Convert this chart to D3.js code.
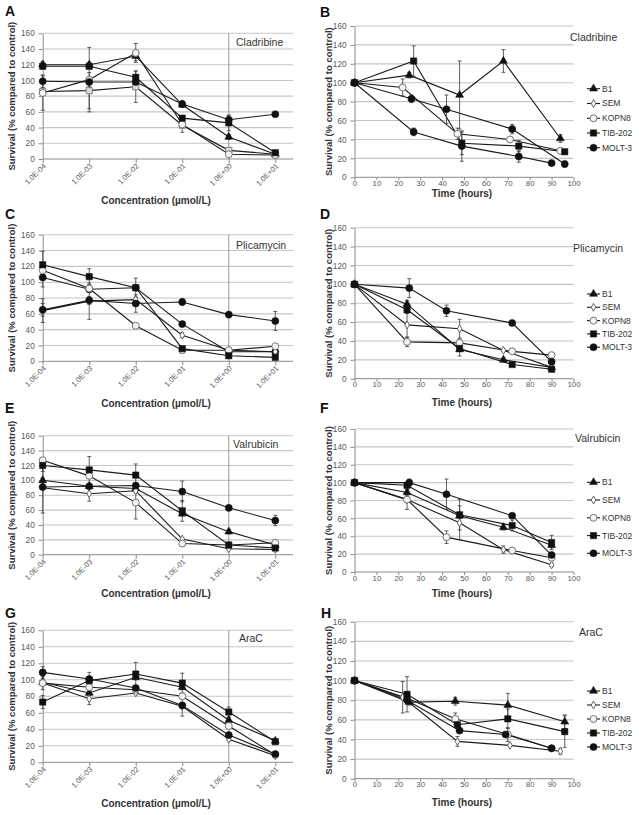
<!DOCTYPE html>
<html><head><meta charset="utf-8">
<script src="https://cdn.jsdelivr.net/npm/d3@7"></script>
<style>
body{margin:0;background:#fff;}
svg{display:block;font-family:"Liberation Sans",Arial,Helvetica,sans-serif;}
</style>
</head><body>
<svg id="chart" width="639" height="815"></svg>
<script>
// ---------------- DATA ----------------
const seriesNames = ["B1", "SEM", "KOPN8", "TIB-202", "MOLT-3"];
const concCategories = ["1.0E-04", "1.0E-03", "1.0E-02", "1.0E-01", "1.0E+00", "1.0E+01"];
const timeTicks = [0, 10, 20, 30, 40, 50, 60, 70, 80, 90, 100];
const survivalTicks = [0, 20, 40, 60, 80, 100, 120, 140, 160];
const drugs = ["Cladribine", "Plicamycin", "Valrubicin", "AraC"];

// A: Cladribine, concentration (rows follow seriesNames)
const cladribineConcValues = [
  [120, 120, 131, 69, 28, 6],
  [86, 87, 92, 43, 11, 6],
  [84, 101, 135, 44, 6, 5],
  [118, 118, 104, 52, 46, 8],
  [99, 98, 98, 70, 50, 57]
];
const cladribineConcErrors = [
  [4, 3, 6, 3, 3, 1],
  [0, 23, 20, 9, 3, 1],
  [22, 41, 12, 3, 1, 1],
  [3, 0, 8, 2, 10, 1],
  [8, 6, 5, 4, 5, 1]
];
// B: Cladribine, time
const cladribineTimeHours = [
  [0, 25, 48, 68, 94],
  [0, 26, 42, 72, 96],
  [0, 22, 47, 71, 94],
  [0, 27, 49, 75, 96],
  [0, 27, 49, 75, 90]
];
const cladribineTimeValues = [
  [100, 108, 87, 123, 41],
  [100, 83, 72, 51, 14],
  [100, 95, 46, 40, 28],
  [100, 123, 36, 33, 27],
  [100, 48, 33, 22, 15]
];
const cladribineTimeErrors = [
  [0, 3, 36, 12, 4],
  [0, 4, 15, 5, 3],
  [0, 9, 6, 2, 2],
  [0, 16, 12, 6, 2],
  [0, 4, 16, 6, 2]
];
// C: Plicamycin, concentration
const plicamycinConcValues = [
  [106, 91, 93, 47, 12, 12],
  [64, 76, 78, 33, 14, 12],
  [115, 92, 45, 14, 14, 19],
  [122, 107, 93, 16, 7, 5],
  [65, 77, 73, 75, 59, 51]
];
const plicamycinConcErrors = [
  [12, 4, 3, 2, 1, 1],
  [15, 23, 3, 3, 1, 2],
  [3, 3, 1, 2, 1, 2],
  [17, 10, 12, 2, 1, 1],
  [8, 5, 11, 4, 2, 12]
];
// D: Plicamycin, time
const plicamycinTimeHours = [
  [0, 24, 48, 68, 90],
  [0, 24, 48, 68, 90],
  [0, 24, 48, 72, 90],
  [0, 24, 48, 72, 90],
  [0, 25, 42, 72, 90]
];
const plicamycinTimeValues = [
  [100, 79, 31, 20, 12],
  [100, 57, 53, 30, 12],
  [100, 39, 38, 29, 25],
  [100, 73, 32, 15, 10],
  [100, 96, 72, 59, 18]
];
const plicamycinTimeErrors = [
  [0, 4, 2, 2, 1],
  [0, 13, 10, 1, 1],
  [0, 5, 4, 1, 1],
  [0, 4, 8, 1, 1],
  [0, 10, 6, 1, 3]
];
// E: Valrubicin, concentration
const valrubicinConcValues = [
  [100, 92, 89, 55, 31, 13],
  [90, 82, 86, 21, 8, 7],
  [127, 106, 70, 15, 13, 16],
  [120, 114, 107, 59, 13, 9],
  [91, 92, 93, 85, 63, 46]
];
const valrubicinConcErrors = [
  [3, 2, 2, 3, 3, 1],
  [0, 10, 3, 2, 1, 1],
  [2, 3, 22, 3, 1, 4],
  [8, 18, 15, 14, 1, 1],
  [35, 3, 3, 14, 2, 7]
];
// F: Valrubicin, time
const valrubicinTimeHours = [
  [0, 24, 48, 68, 90],
  [0, 24, 48, 68, 90],
  [0, 24, 42, 72, 90],
  [0, 24, 48, 72, 90],
  [0, 25, 42, 72, 90]
];
const valrubicinTimeValues = [
  [100, 89, 63, 50, 30],
  [100, 81, 55, 25, 8],
  [100, 81, 39, 24, 16],
  [100, 97, 64, 52, 33],
  [100, 100, 87, 63, 19]
];
const valrubicinTimeErrors = [
  [0, 3, 3, 3, 3],
  [0, 11, 19, 4, 2],
  [0, 3, 7, 2, 2],
  [0, 3, 17, 6, 8],
  [0, 4, 17, 2, 2]
];
// G: AraC, concentration
const aracConcValues = [
  [97, 84, 103, 91, 51, 26],
  [96, 77, 84, 68, 28, 8],
  [96, 91, 88, 80, 44, 9],
  [73, 99, 107, 96, 61, 25],
  [109, 101, 90, 69, 33, 10]
];
const aracConcErrors = [
  [3, 3, 3, 3, 3, 1],
  [3, 7, 2, 2, 2, 1],
  [8, 3, 2, 2, 2, 1],
  [8, 3, 14, 12, 6, 2],
  [7, 8, 3, 13, 2, 2]
];
// H: AraC, time
const aracTimeHours = [
  [0, 25, 46, 70, 96],
  [0, 22, 47, 71, 94],
  [0, 24, 46, 70, 90],
  [0, 24, 47, 70, 96],
  [0, 24, 48, 69, 90]
];
const aracTimeValues = [
  [100, 78, 79, 75, 58],
  [100, 83, 38, 34, 28],
  [100, 82, 61, 45, 31],
  [100, 86, 55, 61, 48],
  [100, 80, 49, 45, 31]
];
const aracTimeErrors = [
  [0, 3, 4, 12, 7],
  [0, 16, 5, 1, 3],
  [0, 3, 6, 7, 1],
  [0, 18, 2, 10, 16],
  [0, 3, 2, 2, 1]
];

// ---------------- STYLE / LAYOUT ----------------
const symbolStyles = {
  triangle:    {type: d3.symbolTriangle, size: 28, fill: "#111", stroke: "#111", sw: 0.5},
  square:      {type: d3.symbolSquare,   size: 40, fill: "#111", stroke: "#111", sw: 0.5},
  circle:      {type: d3.symbolCircle,   size: 40, fill: "#111", stroke: "#111", sw: 0.5},
  circleOpen:  {type: d3.symbolCircle,   size: 38, fill: "#f4f4f4", stroke: "#666", sw: 0.9},
  diamondOpen: {type: d3.symbolDiamond,  size: 18, fill: "#fff", stroke: "#555", sw: 0.9},
  squareOpen:  {type: d3.symbolSquare,   size: 38, fill: "#ddd", stroke: "#777", sw: 0.9}
};
const legendSymbols = ["triangle", "diamondOpen", "circleOpen", "square", "circle"];

const panels = [
  {letter: "A", kind: "conc", drug: drugs[0], vals: cladribineConcValues, errs: cladribineConcErrors,
   syms: ["triangle", "squareOpen", "circleOpen", "square", "circle"],
   yb: 159, yt: 33.3, letterPos: [5, 16], drugPos: [236, 46], xTitleY: 204},
  {letter: "B", kind: "time", drug: drugs[0], hrs: cladribineTimeHours, vals: cladribineTimeValues, errs: cladribineTimeErrors,
   syms: ["triangle", "circle", "circleOpen", "square", "circle"],
   yb: 177.3, yt: 26, letterPos: [320, 17], drugPos: [570, 41], xTitleY: 197, legendY: [88.7, 103.5, 118.3, 133, 147.7]},
  {letter: "C", kind: "conc", drug: drugs[1], vals: plicamycinConcValues, errs: plicamycinConcErrors,
   syms: ["circle", "diamondOpen", "circleOpen", "square", "circle"],
   yb: 361.3, yt: 234.7, letterPos: [5, 219], drugPos: [236, 249], xTitleY: 407},
  {letter: "D", kind: "time", drug: drugs[1], hrs: plicamycinTimeHours, vals: plicamycinTimeValues, errs: plicamycinTimeErrors,
   syms: ["triangle", "diamondOpen", "circleOpen", "square", "circle"],
   yb: 378.7, yt: 227.7, letterPos: [320, 219], drugPos: [573, 252], xTitleY: 406, legendY: [294, 307.3, 320.6, 333.9, 347.2]},
  {letter: "E", kind: "conc", drug: drugs[2], vals: valrubicinConcValues, errs: valrubicinConcErrors,
   syms: ["triangle", "diamondOpen", "circleOpen", "square", "circle"],
   yb: 554.7, yt: 435.7, letterPos: [5, 413], drugPos: [233, 448], xTitleY: 597},
  {letter: "F", kind: "time", drug: drugs[2], hrs: valrubicinTimeHours, vals: valrubicinTimeValues, errs: valrubicinTimeErrors,
   syms: ["triangle", "diamondOpen", "circleOpen", "square", "circle"],
   yb: 572, yt: 429, letterPos: [320, 413], drugPos: [575, 442], xTitleY: 597, legendY: [482.3, 500, 517.8, 535.6, 553.3]},
  {letter: "G", kind: "conc", drug: drugs[3], vals: aracConcValues, errs: aracConcErrors,
   syms: ["triangle", "diamondOpen", "circleOpen", "square", "circle"],
   yb: 762.3, yt: 630.3, letterPos: [5, 618], drugPos: [239, 642], xTitleY: 807},
  {letter: "H", kind: "time", drug: drugs[3], hrs: aracTimeHours, vals: aracTimeValues, errs: aracTimeErrors,
   syms: ["triangle", "diamondOpen", "circleOpen", "square", "circle"],
   yb: 778.7, yt: 621.7, letterPos: [321, 618], drugPos: [579, 636], xTitleY: 806, legendY: [691, 705, 719, 733, 747]}
];

const svg = d3.select("#chart");
const tickColor = "#595959";
const axisColor = "#8c8c8c";
const gridColor = "#c6c6c6";

function drawMarker(g, symName, cx, cy) {
  const s = symbolStyles[symName];
  g.append("path")
    .attr("d", d3.symbol().type(s.type).size(s.size)())
    .attr("transform", `translate(${cx},${cy})`)
    .attr("fill", s.fill).attr("stroke", s.stroke).attr("stroke-width", s.sw);
}

panels.forEach(p => {
  const g = svg.append("g");
  const y = d3.scaleLinear().domain([0, 160]).range([p.yb, p.yt]);
  let x, xLeft, gridRight, xTitleX, yTitleX;
  if (p.kind === "conc") {
    x = d3.scalePoint().domain(concCategories).range([42.7, 275.3]);
    xLeft = 42.7; gridRight = 293; xTitleX = 156; yTitleX = 11;
  } else {
    x = d3.scaleLinear().domain([0, 100]).range([354.5, 573.5]);
    xLeft = x(0); gridRight = x(100); xTitleX = 462; yTitleX = 328;
  }

  // gridlines
  g.append("g").selectAll("line").data(survivalTicks.filter(t => t > 0)).join("line")
    .attr("x1", xLeft).attr("x2", gridRight)
    .attr("y1", d => y(d)).attr("y2", d => y(d))
    .attr("stroke", gridColor).attr("stroke-width", 1.1);

  // vertical reference line at 1.0E+00
  if (p.kind === "conc") {
    g.append("line")
      .attr("x1", x("1.0E+00")).attr("x2", x("1.0E+00"))
      .attr("y1", y(0)).attr("y2", y(160))
      .attr("stroke", "#9a9a9a").attr("stroke-width", 1);
  }

  // y axis
  const ya = g.append("g").attr("transform", `translate(${xLeft},0)`)
    .call(d3.axisLeft(y).tickValues(survivalTicks).tickSize(4).tickSizeOuter(0).tickPadding(4));
  ya.select(".domain").attr("stroke", axisColor);
  ya.selectAll(".tick line").attr("stroke", axisColor);
  ya.selectAll("text").attr("fill", tickColor).attr("font-size", 8.2).attr("font-family", "Liberation Sans, Arial, sans-serif");

  // x axis
  g.append("line").attr("x1", xLeft).attr("x2", gridRight).attr("y1", y(0)).attr("y2", y(0))
    .attr("stroke", axisColor);
  if (p.kind === "conc") {
    const xa = g.append("g").attr("transform", `translate(0,${y(0)})`)
      .call(d3.axisBottom(x).tickSize(4).tickSizeOuter(0));
    xa.select(".domain").remove();
    xa.selectAll(".tick line").attr("stroke", axisColor);
    xa.selectAll("text")
      .attr("fill", tickColor).attr("font-size", 7.5).attr("font-family", "Liberation Sans, Arial, sans-serif")
      .attr("text-anchor", "end").attr("x", -3).attr("y", 5).attr("dy", "0.35em")
      .attr("transform", "rotate(-45)");
  } else {
    const xa = g.append("g").attr("transform", `translate(0,${y(0)})`)
      .call(d3.axisBottom(x).tickValues(timeTicks).tickSize(3).tickSizeOuter(0).tickPadding(0));
    xa.select(".domain").remove();
    xa.selectAll(".tick line").attr("stroke", axisColor);
    xa.selectAll("text").attr("fill", tickColor).attr("font-size", 7.8).attr("font-family", "Liberation Sans, Arial, sans-serif");
  }

  // series
  const series = p.vals.map((vals, i) => ({
    name: seriesNames[i],
    sym: p.syms[i],
    pts: vals.map((v, j) => ({
      x: p.kind === "conc" ? x(concCategories[j]) : x(p.hrs[i][j]),
      v: v, e: p.errs[i][j]
    }))
  }));
  const line = d3.line().x(d => d.x).y(d => y(d.v));
  series.forEach(s => {
    g.append("path").attr("d", line(s.pts)).attr("fill", "none")
      .attr("stroke", "#1a1a1a").attr("stroke-width", 1.1);
  });
  // error bars
  series.forEach(s => {
    s.pts.filter(d => d.e > 0).forEach(d => {
      const eg = g.append("g").attr("stroke", "#3a3a3a").attr("stroke-width", 0.8);
      eg.append("line").attr("x1", d.x).attr("x2", d.x).attr("y1", y(d.v - d.e)).attr("y2", y(d.v + d.e));
      eg.append("line").attr("x1", d.x - 2).attr("x2", d.x + 2).attr("y1", y(d.v - d.e)).attr("y2", y(d.v - d.e));
      eg.append("line").attr("x1", d.x - 2).attr("x2", d.x + 2).attr("y1", y(d.v + d.e)).attr("y2", y(d.v + d.e));
    });
  });
  // markers
  series.forEach(s => s.pts.forEach(d => drawMarker(g, s.sym, d.x, y(d.v))));

  // texts
  g.append("text").attr("x", p.letterPos[0]).attr("y", p.letterPos[1]).text(p.letter)
    .attr("font-size", 14).attr("font-weight", "bold").attr("fill", "#111");
  g.append("text").attr("x", p.drugPos[0]).attr("y", p.drugPos[1]).text(p.drug)
    .attr("font-size", 10.5).attr("fill", "#333");
  g.append("text").attr("x", xTitleX).attr("y", p.xTitleY).attr("text-anchor", "middle")
    .text(p.kind === "conc" ? "Concentration (µmol/L)" : "Time (hours)")
    .attr("font-size", 10).attr("font-weight", "bold").attr("fill", "#333");
  g.append("text").attr("transform", `translate(${yTitleX + 3.5},${(p.yb + p.yt) / 2}) rotate(-90)`)
    .attr("text-anchor", "middle").text("Survival (% compared to control)")
    .attr("font-size", 9.5).attr("font-weight", "bold").attr("fill", "#333");

  // legend
  if (p.legendY) {
    seriesNames.forEach((n, i) => {
      const ly = p.legendY[i];
      g.append("line").attr("x1", 587).attr("x2", 600).attr("y1", ly).attr("y2", ly)
        .attr("stroke", "#1a1a1a").attr("stroke-width", 1.1);
      drawMarker(g, legendSymbols[i], 593.5, ly);
      g.append("text").attr("x", 602).attr("y", ly).attr("dy", "0.35em").text(n)
        .attr("font-size", 8.5).attr("fill", "#333");
    });
  }
});
</script>
</body></html>
